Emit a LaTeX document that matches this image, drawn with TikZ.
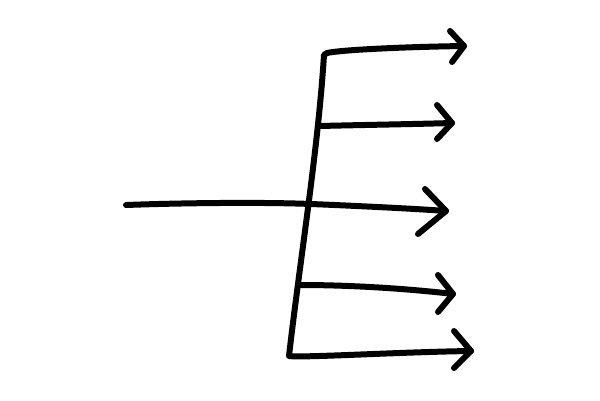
\documentclass[tikz,border=0pt]{standalone}
\begin{document}
\begin{tikzpicture}[x=1pt,y=-1pt,
  stroke/.style={line width=6pt,line cap=round,line join=round,black}]
\useasboundingbox[fill=white] (0,0) rectangle (600,401);
% stem and corners
\coordinate (ctop) at (324,55);
\coordinate (cbot) at (289,356);
\coordinate (s2) at (320,126);
\coordinate (s3) at (311,204);
\coordinate (s4) at (300,285);
% tips
\coordinate (t1) at (464,46);
\coordinate (t2) at (452,123);
\coordinate (t3) at (446,211);
\coordinate (t4) at (453,294);
\coordinate (t5) at (471,351);
% left input
\coordinate (in) at (126,205);
% stem with top and bottom arrows
\draw[stroke] (t1) .. controls (400,47) and (340,50) .. (327,53) -- (ctop) .. controls (318,150) and (300,260) .. (cbot) .. controls (300,358) and (400,352) .. (t5);
% shafts
\draw[stroke] (s2) .. controls (360,125) and (420,124) .. (t2);
\draw[stroke] (in) .. controls (180,203) and (260,202) .. (s3);
\draw[stroke] (s3) .. controls (360,206) and (420,209) .. (t3);
\draw[stroke] (s4) .. controls (360,285) and (420,290) .. (t4);
% arrowheads
\draw[stroke] (450,31) -- (t1) -- (452,62);
\draw[stroke] (437,105) -- (t2) -- (437,139);
\draw[stroke] (425,189) -- (t3) -- (418,234);
\draw[stroke] (438,275) -- (t4) -- (438,312);
\draw[stroke] (454,331) -- (t5) -- (454,368);
\end{tikzpicture}
\end{document}
